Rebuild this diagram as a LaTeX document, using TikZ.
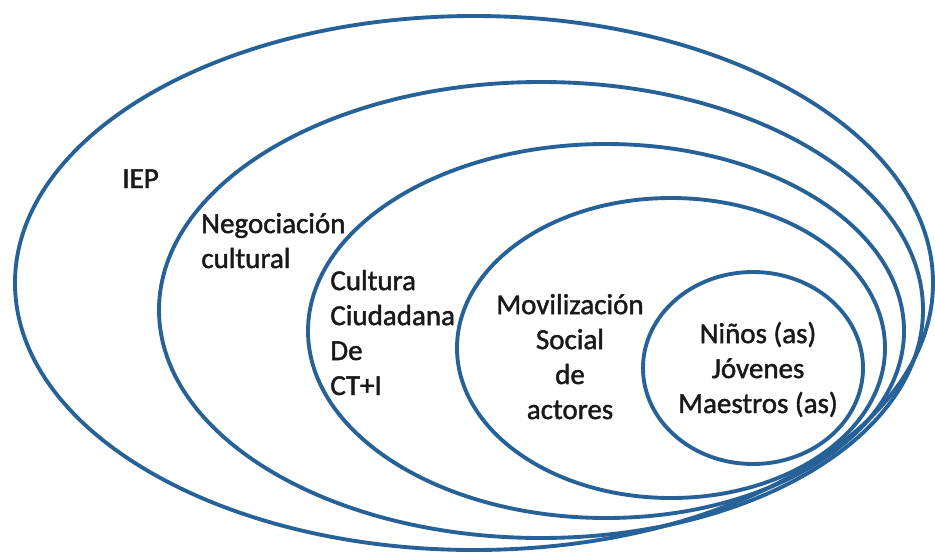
\documentclass[tikz,border=0pt]{standalone}
\usepackage{fontspec}
\setmainfont{Carlito}
\newfontfamily\lblfont[FakeBold=1.5]{Carlito}
\usepackage{tikz}
\definecolor{ringblue}{RGB}{38,98,152}
\tikzset{
  ring/.style={draw=ringblue, line width=2.2pt},
  lbl/.style={inner sep=0pt, text=black!90, font=\lblfont\fontsize{16.5}{19.9}\selectfont}
}

\begin{document}
\begin{tikzpicture}[x=0.02cm, y=-0.02cm]
    \useasboundingbox (0,0) rectangle (935,554);
    % Draw the nested rings, outer to inner
        \draw[ring] (474,283) ellipse (459 and 267);
        \draw[ring] (541,310) ellipse (382 and 228);
        \draw[ring] (606,331) ellipse (298 and 187);
        \draw[ring] (671,348) ellipse (214 and 150);
        \draw[ring] (753,368) ellipse (110 and 96);
    % Labels of the rings (base = last line)
        \node[lbl, anchor=base west] (iep) at (122,188) {IEP};
        \node[lbl, anchor=base west, align=left] (negoc) at (201,268) {Negociación\\cultural};
        \node[lbl, anchor=base west, align=left] (cultura) at (330,395) {Cultura\\Ciudadana\\De\\CT+I};
        \node[lbl, anchor=base, align=center] (movil) at (570,419) {Movilización\\Social\\de\\actores};
        \node[lbl, anchor=base, align=center] (ninos) at (758,413) {Niños (as)\\Jóvenes\\Maestros (as)};
\end{tikzpicture}
\end{document}
